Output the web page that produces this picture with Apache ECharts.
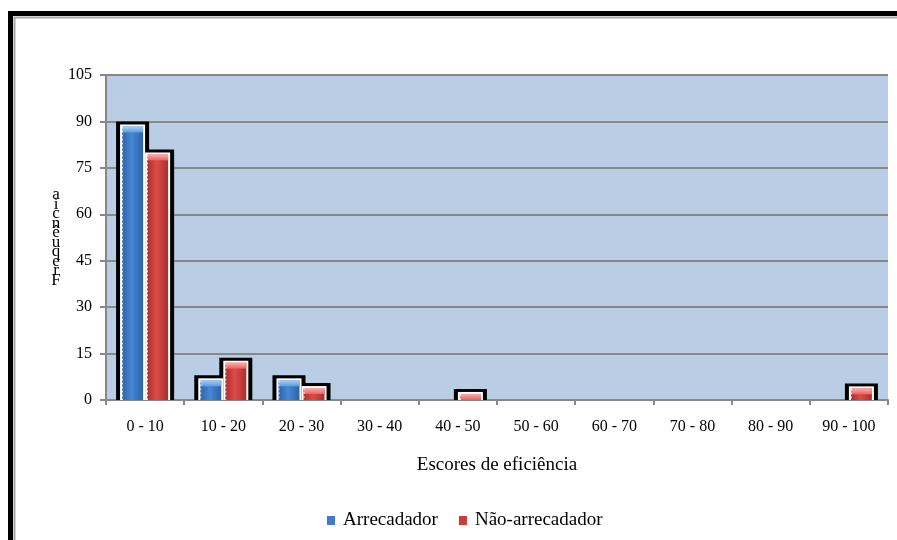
<!DOCTYPE html>
<html>
<head>
<meta charset="utf-8">
<script src="https://cdn.jsdelivr.net/npm/echarts@6/dist/echarts.min.js"></script>
<style>
  html, body { margin: 0; padding: 0; background: #fff; }
  #chart { width: 897px; height: 540px; }
</style>
</head>
<body>
<div id="chart"></div>
<script>
// Distribution of efficiency scores, by group
const categories = ['0 - 10', '10 - 20', '20 - 30', '30 - 40', '40 - 50', '50 - 60', '60 - 70', '70 - 80', '80 - 90', '90 - 100'];
const arrecadador = [89, 7, 7, 0, 0, 0, 0, 0, 0, 0];
const naoArrecadador = [80, 12.7, 4.5, 0, 2.6, 0, 0, 0, 0, 4.4];
const yTicks = { min: 0, max: 105, interval: 15 };

const FONT = '"Liberation Serif", "Times New Roman", serif';

// bevelled column: black frame, white rim, shaded body and a lighter cap
function makeRenderer(offsetSide, dark, mid, light, capLight) {
  return function (params, api) {
    const v = api.value(1);
    if (!v) return null;
    const idx = api.value(0);
    const top = api.coord([idx, v]);
    const base = api.coord([idx, 0]);
    const band = api.size([1, 0])[0];
    const w = band * 0.32;
    const x = offsetSide < 0 ? top[0] - w : top[0];
    const y = top[1];
    const h = base[1] - y;
    const cap = Math.min(6, Math.max(h - 2, 0));
    return {
      type: 'group',
      children: [
        { type: 'rect', z2: 0, shape: { x: x - 4, y: y - 3, width: w + 8, height: h + 3 }, style: { fill: '#000' } },
        { type: 'rect', z2: 5, shape: { x: x, y: y, width: w, height: h }, style: { fill: '#fff' } },
        {
          type: 'rect', z2: 10,
          shape: { x: x + 2, y: y + 2, width: w - 4, height: h - 2 },
          style: {
            fill: new echarts.graphic.LinearGradient(0, 0, 1, 0, [
              { offset: 0, color: dark }, { offset: 0.45, color: mid }, { offset: 1, color: dark }
            ])
          }
        },
        {
          type: 'rect', z2: 11,
          shape: { x: x + 2, y: y + 2, width: w - 4, height: cap },
          style: {
            fill: new echarts.graphic.LinearGradient(0, 0, 0, 1, [
              { offset: 0, color: capLight }, { offset: 1, color: light }
            ])
          }
        },
        {
          type: 'line', z2: 12,
          shape: { x1: x + 2.5, y1: y + 2, x2: x + 2.5, y2: base[1] },
          style: { stroke: 'rgba(255,255,255,0.8)', lineWidth: 1, lineDash: [2, 2] }
        }
      ]
    };
  };
}

const chart = echarts.init(document.getElementById('chart'), null, { renderer: 'canvas' });

chart.setOption({
  animation: false,
  backgroundColor: '#fff',
  textStyle: { fontFamily: FONT, color: '#000' },
  graphic: [
    { type: 'rect', z: -10, shape: { x: 10.5, y: 13.5, width: 1000, height: 1000 }, style: { fill: 'none', stroke: '#000', lineWidth: 5 } },
    { type: 'rect', z: -10, shape: { x: 14.5, y: 17.5, width: 1000, height: 1000 }, style: { fill: 'none', stroke: '#a6a6a6', lineWidth: 2 } }
  ],
  grid: {
    left: 106, right: 9, top: 75, bottom: 140,
    show: true, backgroundColor: '#b9cde5', borderWidth: 0
  },
  legend: {
    left: 322, top: 506,
    icon: 'rect', itemWidth: 8, itemHeight: 9, itemGap: 21,
    textStyle: { fontFamily: FONT, fontSize: 19, color: '#000', padding: [0, 0, 0, 3] },
    data: ['Arrecadador', 'Não-arrecadador']
  },
  xAxis: {
    type: 'category',
    data: categories,
    name: 'Escores de eficiência',
    nameLocation: 'middle',
    nameGap: 56,
    nameTextStyle: { fontFamily: FONT, fontSize: 19, color: '#000' },
    axisLine: { lineStyle: { color: '#888', width: 2 } },
    axisTick: { show: true, length: 5, lineStyle: { color: '#888', width: 2 } },
    axisLabel: { fontFamily: FONT, fontSize: 16, color: '#000', margin: 19 },
    splitLine: { show: false }
  },
  yAxis: {
    type: 'value',
    min: yTicks.min, max: yTicks.max, interval: yTicks.interval,
    name: 'a\ni\nc\nn\nê\nu\nq\ne\nr\nF',
    nameLocation: 'middle',
    nameRotate: 0,
    nameGap: 50,
    nameTextStyle: { fontFamily: FONT, fontSize: 17, color: '#000', align: 'center', verticalAlign: 'middle', lineHeight: 9.5 },
    axisLine: { show: true, lineStyle: { color: '#888', width: 2 } },
    axisTick: { show: true, length: 6, lineStyle: { color: '#888', width: 2 } },
    axisLabel: { fontFamily: FONT, fontSize: 16, color: '#000', margin: 14 },
    splitLine: { show: true, lineStyle: { color: '#888', width: 2 } }
  },
  series: [
    {
      name: 'Arrecadador',
      type: 'custom',
      itemStyle: { color: '#3f7bc8' },
      encode: { x: 0, y: 1 },
      data: arrecadador.map((v, i) => [i, v]),
      renderItem: makeRenderer(-1, '#2f62a6', '#4688d6', '#5c9ae0', '#a9cdf5')
    },
    {
      name: 'Não-arrecadador',
      type: 'custom',
      itemStyle: { color: '#c93c3a' },
      encode: { x: 0, y: 1 },
      data: naoArrecadador.map((v, i) => [i, v]),
      renderItem: makeRenderer(1, '#a92f2d', '#de4a47', '#e8625f', '#f7b0ae')
    }
  ]
});
</script>
</body>
</html>
